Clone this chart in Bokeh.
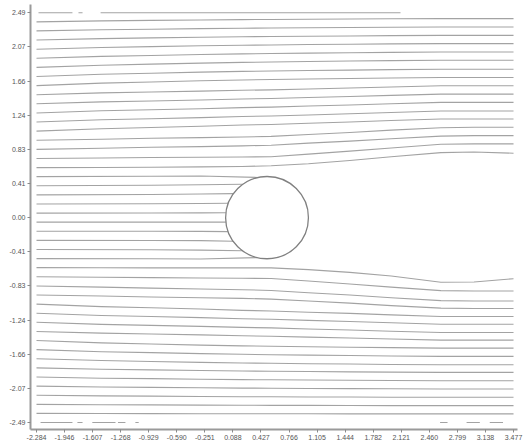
from bokeh.plotting import figure
from bokeh.models import FixedTicker, ColumnDataSource, Range1d
from bokeh.embed import file_html
from bokeh.resources import INLINE
import numpy as np

# Axis ticks and their printed labels
x_ticks = [-2.284, -1.946, -1.607, -1.268, -0.929, -0.590, -0.251, 0.088, 0.427,
           0.766, 1.105, 1.444, 1.782, 2.121, 2.460, 2.799, 3.138, 3.477]
x_tick_labels = ["-2.284", "-1.946", "-1.607", "-1.268", "-0.929", "-0.590", "-0.251",
                 "0.088", "0.427", "0.766", "1.105", "1.444", "1.782", "2.121",
                 "2.460", "2.799", "3.138", "3.477"]
y_ticks = [2.49, 2.075, 1.66, 1.245, 0.83, 0.415, 0.0, -0.415, -0.83, -1.245, -1.66, -2.075, -2.49]
y_tick_labels = ["2.49", "2.07", "1.66", "1.24", "0.83", "0.41", "0.00", "-0.41",
                 "-0.83", "-1.24", "-1.66", "-2.07", "-2.49"]

# Cylinder
cyl_x, cyl_y, cyl_r = 0.5, 0.0, 0.5

# Streamlines passing the cylinder: y at fixed x stations
stations = [-2.284, -1.5, -0.9, -0.3, 0.2, 0.55, 1.0, 1.5, 2.0, 2.6, 3.0, 3.477]
upper_lines = [
    [2.379, 2.391, 2.397, 2.402, 2.406, 2.408, 2.411, 2.413, 2.416, 2.418, 2.418, 2.418],
    [2.269, 2.283, 2.290, 2.297, 2.302, 2.304, 2.308, 2.310, 2.313, 2.316, 2.316, 2.316],
    [2.158, 2.175, 2.184, 2.192, 2.198, 2.201, 2.205, 2.208, 2.212, 2.215, 2.215, 2.215],
    [2.047, 2.067, 2.078, 2.088, 2.095, 2.098, 2.103, 2.107, 2.111, 2.115, 2.115, 2.115],
    [1.937, 1.960, 1.971, 1.983, 1.990, 1.994, 1.999, 2.004, 2.008, 2.013, 2.013, 2.013],
    [1.826, 1.852, 1.865, 1.878, 1.887, 1.891, 1.897, 1.903, 1.908, 1.913, 1.913, 1.913],
    [1.715, 1.742, 1.755, 1.768, 1.777, 1.782, 1.788, 1.793, 1.799, 1.804, 1.804, 1.804],
    [1.604, 1.634, 1.649, 1.663, 1.673, 1.678, 1.685, 1.691, 1.697, 1.703, 1.703, 1.703],
    [1.494, 1.516, 1.526, 1.537, 1.548, 1.553, 1.564, 1.575, 1.588, 1.602, 1.602, 1.602],
    [1.383, 1.407, 1.418, 1.430, 1.442, 1.448, 1.460, 1.472, 1.486, 1.501, 1.501, 1.501],
    [1.272, 1.298, 1.311, 1.324, 1.337, 1.343, 1.356, 1.369, 1.384, 1.401, 1.401, 1.401],
    [1.162, 1.189, 1.202, 1.215, 1.229, 1.235, 1.248, 1.262, 1.278, 1.295, 1.295, 1.295],
    [1.051, 1.081, 1.095, 1.110, 1.125, 1.132, 1.147, 1.162, 1.180, 1.199, 1.199, 1.199],
    [0.940, 0.953, 0.964, 0.972, 0.980, 0.987, 1.011, 1.035, 1.063, 1.093, 1.098, 1.098],
    [0.830, 0.843, 0.855, 0.863, 0.872, 0.880, 0.905, 0.930, 0.959, 0.991, 0.996, 0.996],
    [0.719, 0.724, 0.730, 0.733, 0.737, 0.740, 0.772, 0.808, 0.846, 0.891, 0.896, 0.896],
    [0.608, 0.610, 0.613, 0.617, 0.622, 0.630, 0.655, 0.695, 0.740, 0.790, 0.798, 0.783],
]
lower_lines = [
    [-0.608, -0.609, -0.610, -0.610, -0.610, -0.610, -0.632, -0.665, -0.710, -0.785, -0.782, -0.742],
    [-0.719, -0.724, -0.729, -0.733, -0.736, -0.740, -0.771, -0.806, -0.844, -0.887, -0.892, -0.892],
    [-0.830, -0.845, -0.857, -0.867, -0.876, -0.885, -0.912, -0.940, -0.973, -1.008, -1.013, -1.013],
    [-0.940, -0.953, -0.965, -0.973, -0.981, -0.990, -1.014, -1.039, -1.069, -1.100, -1.105, -1.105],
    [-1.051, -1.081, -1.096, -1.111, -1.127, -1.134, -1.149, -1.164, -1.182, -1.202, -1.202, -1.202],
    [-1.162, -1.189, -1.202, -1.215, -1.229, -1.235, -1.248, -1.262, -1.278, -1.295, -1.295, -1.295],
    [-1.272, -1.297, -1.309, -1.322, -1.334, -1.340, -1.353, -1.365, -1.380, -1.396, -1.396, -1.396],
    [-1.383, -1.404, -1.415, -1.425, -1.436, -1.441, -1.452, -1.463, -1.475, -1.489, -1.489, -1.489],
    [-1.494, -1.522, -1.535, -1.549, -1.558, -1.563, -1.569, -1.575, -1.580, -1.586, -1.586, -1.586],
    [-1.604, -1.629, -1.641, -1.653, -1.661, -1.666, -1.671, -1.676, -1.681, -1.686, -1.686, -1.686],
    [-1.715, -1.737, -1.748, -1.759, -1.766, -1.770, -1.775, -1.779, -1.784, -1.788, -1.788, -1.788],
    [-1.826, -1.842, -1.850, -1.858, -1.864, -1.867, -1.870, -1.874, -1.877, -1.880, -1.880, -1.880],
    [-1.937, -1.951, -1.957, -1.964, -1.969, -1.971, -1.974, -1.977, -1.979, -1.982, -1.982, -1.982],
    [-2.047, -2.058, -2.063, -2.068, -2.072, -2.073, -2.076, -2.078, -2.080, -2.082, -2.082, -2.082],
    [-2.158, -2.166, -2.169, -2.173, -2.176, -2.177, -2.179, -2.180, -2.182, -2.183, -2.183, -2.183],
    [-2.269, -2.274, -2.276, -2.279, -2.280, -2.281, -2.282, -2.283, -2.284, -2.285, -2.285, -2.285],
    [-2.379, -2.381, -2.382, -2.383, -2.383, -2.384, -2.384, -2.385, -2.385, -2.385, -2.385, -2.385],
]

# Streamlines that run into the front of the cylinder:
# y at the first, third and fourth stations, then the y where they meet its surface
front_start = [0.498, 0.387, 0.277, 0.166, 0.055, -0.055, -0.166, -0.277, -0.387, -0.498]
front_a = [0.502, 0.393, 0.281, 0.168, 0.056, -0.055, -0.166, -0.278, -0.390, -0.500]
front_b = [0.505, 0.400, 0.287, 0.172, 0.058, -0.055, -0.167, -0.280, -0.395, -0.503]
front_end = [0.488, 0.405, 0.292, 0.175, 0.060, -0.055, -0.170, -0.287, -0.402, -0.486]

# Boundary streamlines, only partly inside the domain: visible x intervals
top_y = 2.49
top_pieces = [(-2.26, -1.85), (-1.777, -1.728), (-1.51, 2.112)]
bottom_y = -2.49
bottom_pieces = [(-2.235, -1.85), (-1.79, -1.728), (-1.61, -1.33), (-1.30, -1.21),
                 (-1.09, -1.05), (2.59, 2.68), (2.91, 3.07), (3.19, 3.35)]

xs, ys = [], []
for row in upper_lines + lower_lines:
    xs.append(stations)
    ys.append(row)
for y0, ya, yb, ye in zip(front_start, front_a, front_b, front_end):
    xe = cyl_x - np.sqrt(cyl_r ** 2 - ye ** 2)
    xs.append([stations[0], stations[2], stations[3], xe])
    ys.append([y0, ya, yb, ye])
for a, b in top_pieces:
    xs.append([a, b])
    ys.append([top_y, top_y])
for a, b in bottom_pieces:
    xs.append([a, b])
    ys.append([bottom_y, bottom_y])

src = ColumnDataSource(dict(xs=xs, ys=ys))

p = figure(width=524, height=442, output_backend="svg", toolbar_location=None,
           x_range=Range1d(-2.3565, 3.525), y_range=Range1d(-2.5747, 2.590),
           min_border_left=30, min_border_right=7, min_border_top=4, min_border_bottom=11)
p.outline_line_color = None
p.grid.visible = False
p.background_fill_color = "white"
p.border_fill_color = "white"

p.multi_line("xs", "ys", source=src, line_color="#a3a3a3", line_width=1.1,
             line_join="round")
p.ellipse(x=[cyl_x], y=[cyl_y], width=2 * cyl_r, height=2 * cyl_r,
          fill_color="white", line_color="#808080", line_width=1.3)

p.xaxis.ticker = FixedTicker(ticks=x_ticks)
p.xaxis.major_label_overrides = {t: s for t, s in zip(x_ticks, x_tick_labels)}
p.yaxis.ticker = FixedTicker(ticks=y_ticks)
p.yaxis.major_label_overrides = {t: s for t, s in zip(y_ticks, y_tick_labels)}
for ax in (p.xaxis, p.yaxis):
    ax.axis_line_color = "#9a9a9a"
    ax.axis_line_width = 2
    ax.major_tick_line_color = "#8a8a8a"
    ax.major_tick_out = 3
    ax.major_tick_in = 0
    ax.minor_tick_line_color = None
    ax.major_label_text_font = "Liberation Sans"
    ax.major_label_text_font_size = "7px"
    ax.major_label_text_color = "#555555"
    ax.major_label_standoff = 2

open("out.html", "w").write(file_html(p, INLINE))
